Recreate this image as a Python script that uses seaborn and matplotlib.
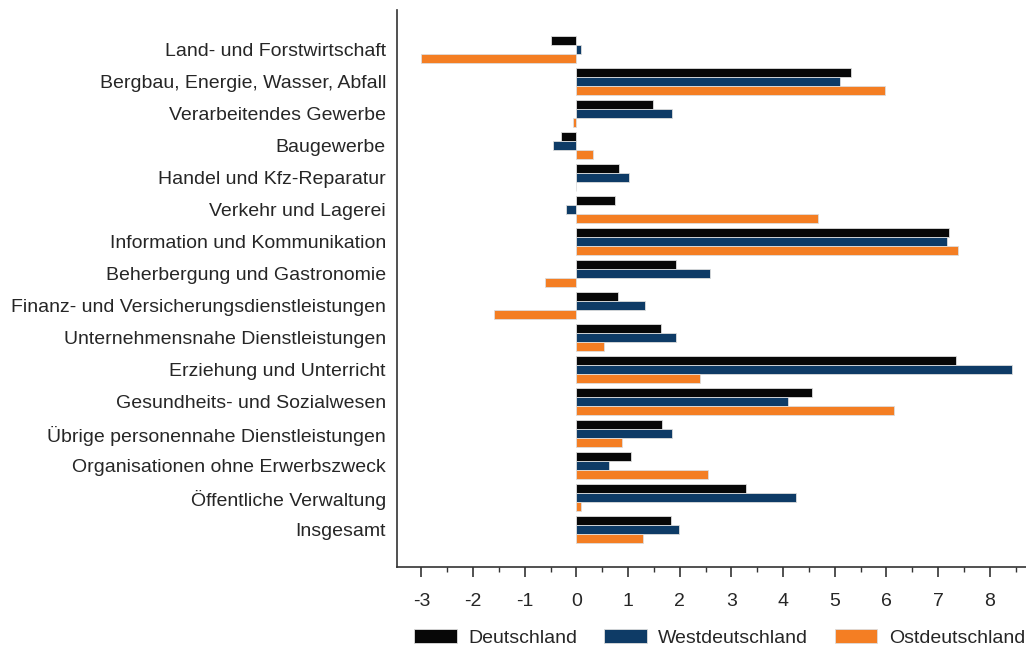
import matplotlib
matplotlib.use("Agg")
import matplotlib.pyplot as plt
import pandas as pd
import seaborn as sns
from matplotlib.ticker import MultipleLocator

branchen = [
    "Land- und Forstwirtschaft",
    "Bergbau, Energie, Wasser, Abfall",
    "Verarbeitendes Gewerbe",
    "Baugewerbe",
    "Handel und Kfz-Reparatur",
    "Verkehr und Lagerei",
    "Information und Kommunikation",
    "Beherbergung und Gastronomie",
    "Finanz- und Versicherungsdienstleistungen",
    "Unternehmensnahe Dienstleistungen",
    "Erziehung und Unterricht",
    "Gesundheits- und Sozialwesen",
    "Übrige personennahe Dienstleistungen",
    "Organisationen ohne Erwerbszweck",
    "Öffentliche Verwaltung",
    "Insgesamt",
]
deutschland = [-0.50, 5.31, 1.49, -0.29, 0.82, 0.75, 7.21, 1.92, 0.81, 1.64, 7.34, 4.55, 1.65, 1.05, 3.28, 1.84]
west = [0.09, 5.11, 1.85, -0.46, 1.02, -0.21, 7.17, 2.58, 1.33, 1.93, 8.43, 4.09, 1.85, 0.64, 4.24, 1.98]
ost = [-3.00, 5.97, -0.06, 0.33, -0.01, 4.68, 7.38, -0.60, -1.60, 0.53, 2.39, 6.15, 0.88, 2.55, 0.09, 1.28]
regionen = ["Deutschland", "Westdeutschland", "Ostdeutschland"]
farben = ["#070707", "#0e3b66", "#f47e23"]

df = pd.DataFrame({"branche": branchen, "Deutschland": deutschland,
                   "Westdeutschland": west, "Ostdeutschland": ost})
df = df.melt(id_vars="branche", var_name="region", value_name="wert")

sns.set_style("white")
plt.rcParams["font.family"] = ["Liberation Sans", "DejaVu Sans"]

fig = plt.figure(figsize=(10.26, 6.48), dpi=100)
ax = fig.add_axes([0.387, 0.125, 0.613, 0.8596])

sns.barplot(data=df, y="branche", x="wert", hue="region", order=branchen,
            hue_order=regionen, palette=farben, saturation=1, orient="h",
            width=0.84, edgecolor="#dddddd", linewidth=0.6, ax=ax)

ax.set_xlim(-3.47, 8.7)
ax.set_ylim(16.17, -1.234)
ax.set_xlabel("")
ax.set_ylabel("")
ax.xaxis.set_major_locator(MultipleLocator(1))
ax.xaxis.set_minor_locator(MultipleLocator(0.5))
ax.tick_params(axis="x", which="major", direction="out", length=7, width=1.2,
               color="#333333", labelsize=14, pad=12, bottom=True)
ax.tick_params(axis="x", which="minor", direction="out", length=3.5, width=1,
               color="#333333", bottom=True)
ax.tick_params(axis="y", length=0, labelsize=14, pad=8)
ax.set_xticks(range(-3, 9))
ax.set_xticklabels([str(v) for v in range(-3, 9)])

for side in ["top", "right"]:
    ax.spines[side].set_visible(False)
for side in ["left", "bottom"]:
    ax.spines[side].set_color("#333333")
    ax.spines[side].set_linewidth(1.2)

ax.legend(loc="center", bbox_to_anchor=(0.513, -0.127), ncol=3,
          frameon=False, fontsize=14, handlelength=2.2, handleheight=0.72,
          columnspacing=1.35, handletextpad=0.6)

fig.savefig("out.png", dpi=100)
